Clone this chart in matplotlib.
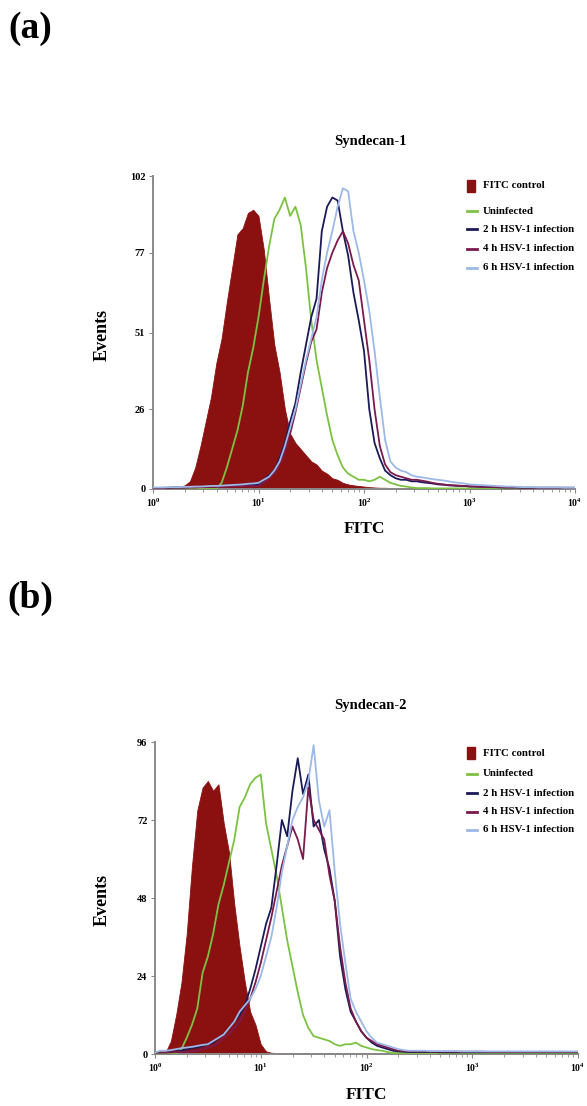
import numpy as np
import matplotlib
matplotlib.use("Agg")
import matplotlib.pyplot as plt
from matplotlib.patches import Rectangle
from matplotlib.lines import Line2D

plt.rcParams['font.family'] = ['Liberation Serif', 'DejaVu Serif']
plt.rcParams['font.weight'] = 'bold'
plt.rcParams['mathtext.fontset'] = 'custom'
plt.rcParams['mathtext.rm'] = 'Liberation Serif:bold'
plt.rcParams['mathtext.bf'] = 'Liberation Serif:bold'
plt.rcParams['mathtext.it'] = 'Liberation Serif:bold'

# ---------------- data ----------------
# FITC channel grid (log10 of intensity), 0.05-decade bins from 10^0 to 10^4
log_fitc = np.round(np.arange(81) * 0.05, 2)

series_labels = ['FITC control', 'Uninfected', '2 h HSV-1 infection',
                 '4 h HSV-1 infection', '6 h HSV-1 infection']
x_ticks = [1, 10, 100, 1000, 10000]
x_tick_labels = [r'$10^{0}$', r'$10^{1}$', r'$10^{2}$', r'$10^{3}$', r'$10^{4}$']

# Panel (a): Syndecan-1
s1_yticks = [0, 26, 51, 77, 102]
s1_fitc_control = [0, 0, 0.3, 0.6, 0.8, 0.7, 1.2, 2.5, 7, 14,
                   22, 30, 41, 49, 61, 72, 83, 85, 90, 91,
                   89, 78, 62, 47, 38, 26, 18, 15, 13, 11,
                   9, 8, 6, 5, 3.5, 3, 2, 1.5, 1.2, 1,
                   0.8, 0.6, 0.5, 0.4, 0.4, 0.3, 0.3, 0.3, 0.3, 0.3,
                   0.3, 0.3, 0.3, 0.3, 0.3, 0.2, 0.2, 0.2, 0.2, 0.2,
                   0.2, 0.2, 0.2, 0.2, 0.2, 0.2, 0.2, 0.2, 0.2, 0.2,
                   0.2, 0.2, 0.2, 0.2, 0.2, 0.2, 0.2, 0.2, 0.2, 0.2,
                   0.2]
s1_uninfected = [0, 0, 0, 0, 0, 0, 0, 0, 0, 0,
                 0, 0, 0, 2, 7, 13, 19, 27, 38, 46,
                 56, 68, 79, 88, 91, 95, 89, 92, 86, 72,
                 55, 42, 33, 24, 16, 11, 7, 5, 4, 3,
                 3, 2.5, 3, 4, 3, 2, 1.5, 1, 0.8, 0.5,
                 0.3, 0.3, 0.3, 0.2, 0.2, 0.2, 0.2, 0.2, 0.2, 0.2,
                 0.2, 0.2, 0.2, 0.2, 0.2, 0.2, 0.2, 0.2, 0.2, 0.2,
                 0.2, 0.2, 0.2, 0.2, 0.2, 0.2, 0.2, 0.2, 0.2, 0.2,
                 0.2]
s1_2h = [0.3, 0.3, 0.4, 0.4, 0.5, 0.5, 0.5, 0.6, 0.6, 0.7,
         0.7, 0.8, 0.8, 0.9, 1, 1, 1.2, 1.2, 1.3, 1.4,
         1.5, 3, 4.5, 6, 10, 15, 22, 28, 38, 47,
         56, 62, 84, 92, 95, 94, 84, 76, 64, 55,
         45, 26, 15, 10, 6, 4.5, 3.5, 3, 3, 2.5,
         2.5, 2.2, 2, 1.8, 1.5, 1.4, 1.2, 1.1, 1, 1,
         0.8, 0.8, 0.7, 0.7, 0.6, 0.6, 0.5, 0.5, 0.5, 0.5,
         0.4, 0.4, 0.4, 0.4, 0.4, 0.4, 0.4, 0.4, 0.4, 0.4,
         0.4]
s1_4h = [0.3, 0.3, 0.3, 0.4, 0.4, 0.4, 0.5, 0.5, 0.5, 0.6,
         0.6, 0.7, 0.7, 0.8, 0.8, 0.9, 0.9, 1, 1, 1,
         1, 2, 3.5, 5, 8, 12, 18, 25, 33, 41,
         48, 52, 64, 72, 77, 81, 84, 80, 73, 68,
         55, 42, 26, 14, 8, 5.5, 4.5, 4, 3.5, 3,
         3, 2.7, 2.4, 2, 1.7, 1.5, 1.3, 1.2, 1.1, 1,
         0.9, 0.8, 0.8, 0.7, 0.7, 0.6, 0.6, 0.5, 0.5, 0.5,
         0.4, 0.4, 0.4, 0.4, 0.4, 0.4, 0.4, 0.4, 0.4, 0.4,
         0.4]
s1_6h = [0.5, 0.5, 0.5, 0.6, 0.6, 0.6, 0.7, 0.7, 0.8, 0.8,
         0.9, 1, 1, 1.1, 1.2, 1.3, 1.4, 1.5, 1.7, 1.8,
         2, 3, 4, 6, 9, 14, 20, 26, 34, 42,
         49, 56, 68, 77, 84, 92, 98, 97, 84, 77,
         68, 58, 45, 30, 16, 9, 7, 6, 5.5, 4.5,
         4, 3.8, 3.5, 3.2, 3, 2.8, 2.5, 2.2, 2, 1.8,
         1.5, 1.4, 1.3, 1.2, 1.1, 1, 0.9, 0.8, 0.8, 0.7,
         0.6, 0.6, 0.6, 0.5, 0.5, 0.5, 0.5, 0.5, 0.4, 0.4,
         0.4]

# Panel (b): Syndecan-2
s2_yticks = [0, 24, 48, 72, 96]
s2_fitc_control = [0.3, 0.3, 0.5, 4, 12, 22, 37, 58, 75, 82,
                   84, 81, 83, 71, 62, 46, 33, 22, 13, 9,
                   3, 0.8, 0.4, 0.3, 0.3, 0.3, 0.3, 0.3, 0.3, 0.3,
                   0.3, 0.3, 0.3, 0.3, 0.3, 0.3, 0.3, 0.3, 0.3, 0.3,
                   0.3, 0.3, 0.3, 0.3, 0.3, 0.3, 0.3, 0.3, 0.3, 0.3,
                   0.3, 0.3, 0.3, 0.3, 0.3, 0.3, 0.3, 0.3, 0.3, 0.3,
                   0.3, 0.3, 0.3, 0.3, 0.3, 0.3, 0.3, 0.3, 0.3, 0.3,
                   0.3, 0.3, 0.3, 0.3, 0.3, 0.3, 0.3, 0.3, 0.3, 0.3,
                   0.3]
s2_uninfected = [0, 0, 0, 0, 0, 1.5, 5, 9, 14, 25,
                 30, 37, 46, 52, 59, 66, 76, 79, 83, 85,
                 86, 71, 63, 55, 45, 35, 27, 19, 12, 8,
                 5.5, 5, 4.5, 4, 3, 2.5, 3, 3, 3.5, 2.5,
                 2, 1.5, 1.2, 1, 0.6, 0.3, 0.3, 0.3, 0.3, 0.3,
                 0.3, 0.3, 0.3, 0.2, 0.2, 0.2, 0.2, 0.2, 0.2, 0.2,
                 0.2, 0.2, 0.2, 0.2, 0.2, 0.2, 0.2, 0.2, 0.2, 0.2,
                 0.2, 0.2, 0.2, 0.2, 0.2, 0.2, 0.2, 0.2, 0.2, 0.2,
                 0.2]
s2_2h = [0.5, 0.5, 0.5, 0.6, 0.8, 1, 1.5, 1.8, 2, 2.5,
         3, 3.5, 5, 6, 8, 10, 12, 15, 20, 26,
         33, 40, 45, 58, 72, 67, 81, 91, 80, 86,
         70, 72, 63, 57, 47, 30, 20, 13, 10, 7,
         5, 3.5, 2.5, 2, 1.5, 1, 0.8, 0.7, 0.6, 0.6,
         0.6, 0.6, 0.6, 0.6, 0.5, 0.5, 0.5, 0.5, 0.5, 0.5,
         0.5, 0.5, 0.5, 0.5, 0.5, 0.5, 0.5, 0.5, 0.5, 0.5,
         0.5, 0.5, 0.5, 0.5, 0.5, 0.5, 0.5, 0.5, 0.5, 0.5,
         0.5]
s2_4h = [0.5, 0.5, 0.5, 0.5, 0.6, 0.6, 0.7, 0.8, 1, 1.5,
         2, 2.5, 3.5, 5, 6, 8, 10, 13, 17, 22,
         28, 35, 42, 50, 58, 64, 70, 66, 60, 82,
         72, 69, 66, 55, 47, 33, 22, 14, 10, 7,
         5, 4, 3, 2.5, 2, 1.5, 1, 0.9, 0.8, 0.8,
         0.8, 0.8, 0.7, 0.7, 0.7, 0.7, 0.7, 0.7, 0.7, 0.7,
         0.7, 0.7, 0.7, 0.6, 0.6, 0.6, 0.6, 0.6, 0.6, 0.6,
         0.6, 0.6, 0.6, 0.6, 0.6, 0.6, 0.6, 0.6, 0.6, 0.6,
         0.6]
s2_6h = [0.5, 1, 1, 1.2, 1.5, 1.8, 2, 2.2, 2.5, 2.8,
         3, 4, 5, 6, 8, 10, 13, 15, 17, 20,
         24, 30, 36, 45, 56, 64, 72, 76, 79, 84,
         95, 78, 70, 75, 56, 40, 28, 17, 13, 10,
         7, 5, 3.5, 3, 2.5, 2, 1.5, 1.2, 1, 1,
         1, 1, 0.9, 0.9, 0.9, 0.9, 0.9, 0.9, 0.8, 0.8,
         0.8, 0.8, 0.8, 0.8, 0.8, 0.8, 0.8, 0.8, 0.8, 0.8,
         0.8, 0.8, 0.8, 0.8, 0.8, 0.8, 0.8, 0.8, 0.8, 0.8,
         0.8]

# ---------------- style ----------------
colors = ['#8b1111', '#7cc242', '#1b1a58', '#7b1a4c', '#9cb9e8']
spine_col = '#8a8a8a'
W, H = 587, 1106


def fx(x):
    return x / W


def fy(y):
    return 1 - y / H


fig = plt.figure(figsize=(W / 100, H / 100), dpi=100)
fig.patch.set_facecolor('white')

panels = [
    dict(rect=[153, 176, 575, 489], data=[s1_fitc_control, s1_uninfected, s1_2h, s1_4h, s1_6h],
         yticks=s1_yticks, title='Syndecan-1', title_y=141, label='(a)', label_y=28,
         events_y=335, fitc_y=529, fitc_x=364, leg_y=[186, 211, 229, 249, 268]),
    dict(rect=[155, 742, 578, 1054], data=[s2_fitc_control, s2_uninfected, s2_2h, s2_4h, s2_6h],
         yticks=s2_yticks, title='Syndecan-2', title_y=706, label='(b)', label_y=598,
         events_y=900, fitc_y=1095, fitc_x=366, leg_y=[753, 774, 793, 812, 830]),
]

fitc = 10 ** log_fitc

for p in panels:
    x0, y0, x1, y1 = p['rect']
    ax = fig.add_axes([fx(x0), fy(y1), (x1 - x0) / W, (y1 - y0) / H])
    d = p['data']
    ax.fill_between(fitc, 0, d[0], color=colors[0], lw=0.6, edgecolor=colors[0], zorder=2)
    for k in [1, 2, 3, 4]:
        ax.plot(fitc, d[k], color=colors[k], lw=1.3, zorder=3 + k)
    ax.set_xscale('log')
    ax.set_xlim(1, 1e4)
    ax.set_ylim(0, p['yticks'][-1])
    ax.set_xticks(x_ticks)
    ax.set_xticklabels(x_tick_labels, fontsize=7)
    ax.set_yticks(p['yticks'])
    ax.set_yticklabels([str(v) for v in p['yticks']], fontsize=7.5, fontweight='bold')
    for s in ['top', 'right']:
        ax.spines[s].set_visible(False)
    for s in ['left', 'bottom']:
        ax.spines[s].set_color(spine_col)
        ax.spines[s].set_linewidth(1.4)
    ax.tick_params(axis='both', which='major', direction='out', length=3, width=0.8,
                   color=spine_col, pad=2.5)
    ax.tick_params(axis='x', which='minor', direction='out', length=2, width=0.6, color=spine_col)
    ax.set_facecolor('none')

    fig.text(fx(30), fy(p['label_y']), p['label'], fontsize=27, fontweight='bold',
             ha='center', va='center')
    fig.text(fx(370), fy(p['title_y']), p['title'], fontsize=10.5, fontweight='bold',
             ha='center', va='center')
    fig.text(fx(102), fy(p['events_y']), 'Events', fontsize=13, fontweight='bold',
             ha='center', va='center', rotation=90)
    fig.text(fx(p['fitc_x']), fy(p['fitc_y']), 'FITC', fontsize=12.5, fontweight='bold',
             ha='center', va='center')

    # legend
    for k, (lab, ly) in enumerate(zip(series_labels, p['leg_y'])):
        if k == 0:
            fig.add_artist(Rectangle((fx(467), fy(ly + 6)), 8 / W, 12 / H,
                                     transform=fig.transFigure, color=colors[0]))
        else:
            fig.add_artist(Line2D([fx(467), fx(477)], [fy(ly), fy(ly)],
                                  transform=fig.transFigure, color=colors[k], lw=2))
        fig.text(fx(483), fy(ly), lab, fontsize=7.8, fontweight='bold',
                 ha='left', va='center')

fig.savefig('out.png', dpi=100, facecolor='white')
